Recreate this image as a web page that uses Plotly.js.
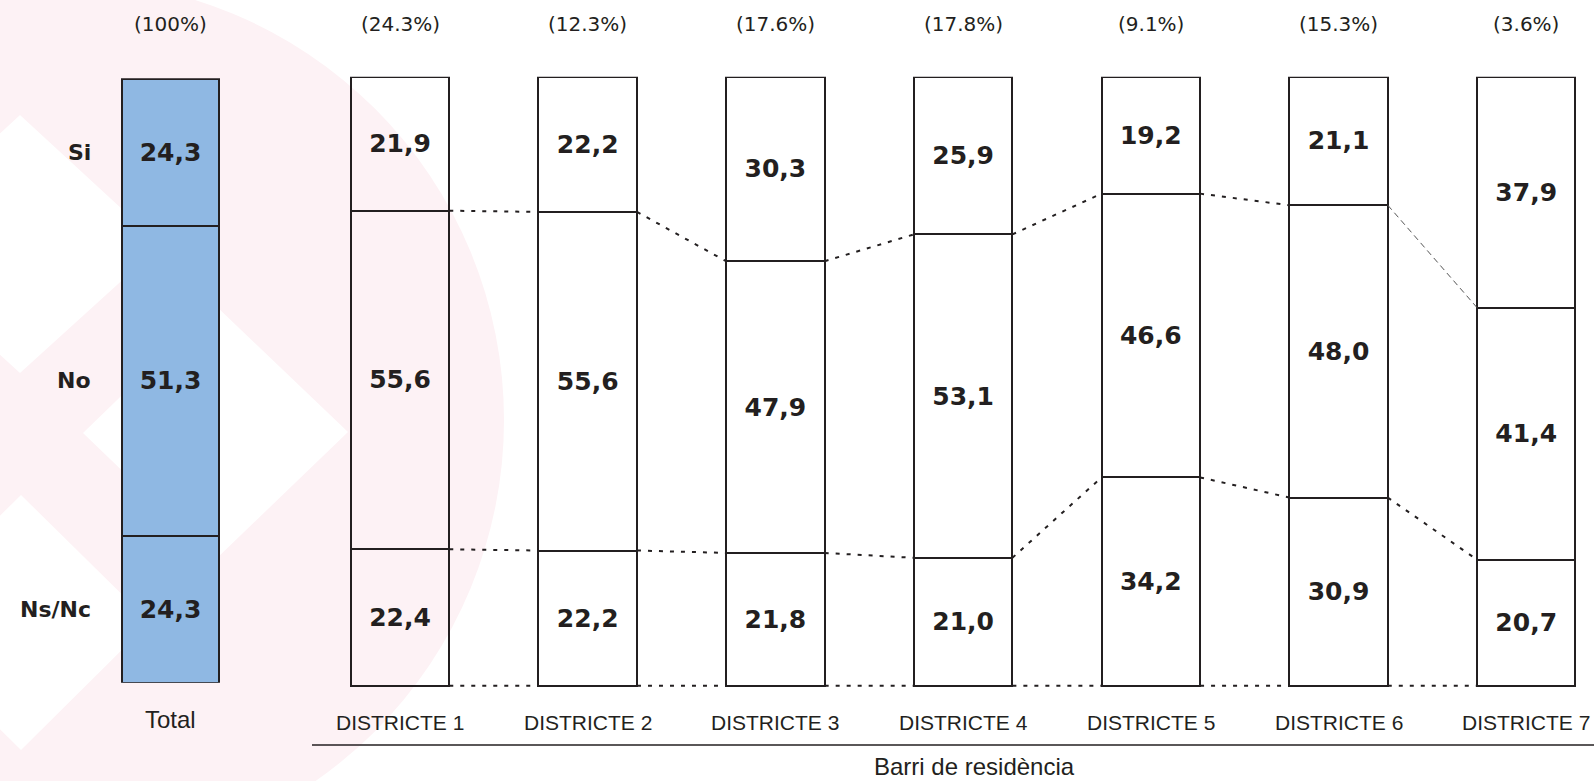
<!DOCTYPE html>
<html>
<head>
<meta charset="utf-8">
<script src="https://cdn.plot.ly/plotly-3.0.1.min.js"></script>
<style>
  html, body { margin: 0; padding: 0; background: #ffffff; }
  #chart { width: 1594px; height: 781px; }
</style>
</head>
<body>
<div id="chart"></div>
<script>
// ---------- data ----------
const totalLabel = ['Total'];
const districts = ['DISTRICTE 1', 'DISTRICTE 2', 'DISTRICTE 3', 'DISTRICTE 4', 'DISTRICTE 5', 'DISTRICTE 6', 'DISTRICTE 7'];
const answers = ['Si', 'No', 'Ns/Nc'];

const totalSi = [24.3];
const totalNo = [51.3];
const totalNs = [24.3];

const siValues = [21.9, 22.2, 30.3, 25.9, 19.2, 21.1, 37.9];
const noValues = [55.6, 55.6, 47.9, 53.1, 46.6, 48.0, 41.4];
const nsValues = [22.4, 22.2, 21.8, 21.0, 34.2, 30.9, 20.7];

const totalShare = [100];
const districtShares = [24.3, 12.3, 17.6, 17.8, 9.1, 15.3, 3.6];

const xAxisTitle = 'Barri de residència';

// ---------- helpers / styling ----------
const W = 1594, H = 781;
const px = v => v / W;
const py = v => 1 - v / H;
const INK = '#231f20';
const BLUE = '#8fb8e3';
const BAR_W = 0.525;
const fmt = v => v.toFixed(1).replace('.', ',');
const idx = districts.map((_, i) => i);

const valueFont = { family: 'DejaVu Sans, Verdana, sans-serif', size: 25, color: INK, weight: 'bold' };

function barTrace(x, y, xa, ya, fill, width) {
  return {
    type: 'bar', x: x, y: y, xaxis: xa, yaxis: ya,
    width: width,
    marker: { color: fill, line: { color: INK, width: 2 } },
    text: y.map(fmt), textposition: 'inside', insidetextanchor: 'middle',
    textangle: 0, constraintext: 'none', insidetextfont: valueFont,
    hoverinfo: 'skip', showlegend: false
  };
}

const traces = [];
// Total bar (bottom to top)
traces.push(barTrace([0], totalNs, 'x', 'y', BLUE, 1));
traces.push(barTrace([0], totalNo, 'x', 'y', BLUE, 1));
traces.push(barTrace([0], totalSi, 'x', 'y', BLUE, 1));
// District bars
const clear = 'rgba(0,0,0,0)';
traces.push(barTrace(idx, nsValues, 'x2', 'y2', clear, BAR_W));
traces.push(barTrace(idx, noValues, 'x2', 'y2', clear, BAR_W));
traces.push(barTrace(idx, siValues, 'x2', 'y2', clear, BAR_W));

// Connector lines between adjacent district bars
const levelBottom = districts.map(() => 0);
const levelNs = nsValues.slice();
const levelNsNo = nsValues.map((v, i) => v + noValues[i]);

function connector(level, pairs, line) {
  const xs = [], ys = [];
  pairs.forEach(i => {
    xs.push(i + BAR_W / 2, i + 1 - BAR_W / 2, null);
    ys.push(level[i], level[i + 1], null);
  });
  return {
    type: 'scatter', mode: 'lines', x: xs, y: ys, xaxis: 'x2', yaxis: 'y2',
    line: line, hoverinfo: 'skip', showlegend: false, connectgaps: false, cliponaxis: false
  };
}
const dotted = { color: INK, width: 2, dash: '4px,7px' };
const allPairs = [0, 1, 2, 3, 4, 5];
traces.push(connector(levelBottom, allPairs, dotted));
traces.push(connector(levelNs, allPairs, dotted));
traces.push(connector(levelNsNo, [0, 1, 2, 3, 4], dotted));
traces.push(connector(levelNsNo, [5], { color: '#555555', width: 1, dash: '6px,4px' }));

// ---------- annotations ----------
const annotations = [];
const pctFont = { family: 'DejaVu Sans, Verdana, sans-serif', size: 20, color: INK };
// share labels on top
annotations.push({ xref: 'x', yref: 'paper', x: 0, y: py(24), text: '(' + totalShare[0] + '%)',
  showarrow: false, xanchor: 'center', yanchor: 'middle', font: pctFont });
districtShares.forEach((s, i) => annotations.push({
  xref: 'x2', yref: 'paper', x: i, y: py(24), text: '(' + s.toFixed(1) + '%)',
  showarrow: false, xanchor: 'center', yanchor: 'middle', font: pctFont }));
// category labels below
annotations.push({ xref: 'x', yref: 'paper', x: 0, y: py(719), text: totalLabel[0],
  showarrow: false, xanchor: 'center', yanchor: 'middle',
  font: { family: 'Liberation Sans, Arial, sans-serif', size: 24, color: INK } });
districts.forEach((d, i) => annotations.push({
  xref: 'x2', yref: 'paper', x: i, y: py(722), text: d,
  showarrow: false, xanchor: 'center', yanchor: 'middle',
  font: { family: 'Liberation Sans, Arial, sans-serif', size: 21, color: INK } }));
// axis title
annotations.push({ xref: 'paper', yref: 'paper', x: px(974), y: py(766), text: xAxisTitle,
  showarrow: false, xanchor: 'center', yanchor: 'middle',
  font: { family: 'Liberation Sans, Arial, sans-serif', size: 24, color: INK } });
// answer labels left of the total bar
const answerMids = [
  totalNs[0] + totalNo[0] + totalSi[0] / 2,
  totalNs[0] + totalNo[0] / 2,
  totalNs[0] / 2
];
answers.forEach((a, i) => annotations.push({
  xref: 'paper', yref: 'y', x: px(93), y: answerMids[i], text: a,
  showarrow: false, xanchor: 'right', yanchor: 'middle',
  font: { family: 'DejaVu Sans, Verdana, sans-serif', size: 22, color: INK, weight: 'bold' } }));

// ---------- background watermark + rule ----------
function poly(points) {
  return 'M ' + points.map(p => px(p[0]) + ',' + py(p[1])).join(' L ') + ' Z';
}
const shapes = [
  { type: 'circle', xref: 'paper', yref: 'paper', layer: 'below',
    x0: px(64 - 440), x1: px(64 + 440), y0: py(420 + 440), y1: py(420 - 440),
    fillcolor: '#fdf2f5', line: { width: 0 } },
  { type: 'path', xref: 'paper', yref: 'paper', layer: 'below',
    path: poly([[20, 115], [161, 245], [20, 373], [-121, 245]]),
    fillcolor: '#ffffff', line: { width: 0 } },
  { type: 'path', xref: 'paper', yref: 'paper', layer: 'below',
    path: poly([[83, 433], [215, 305], [348, 432], [215, 560]]),
    fillcolor: '#ffffff', line: { width: 0 } },
  { type: 'path', xref: 'paper', yref: 'paper', layer: 'below',
    path: poly([[21, 495], [150, 622], [21, 750], [-108, 622]]),
    fillcolor: '#ffffff', line: { width: 0 } },
  { type: 'line', xref: 'paper', yref: 'paper', layer: 'above',
    x0: px(312), x1: 1, y0: py(745), y1: py(745),
    line: { color: INK, width: 1.6 } }
];

const hidden = { showgrid: false, zeroline: false, showline: false, showticklabels: false, ticks: '', fixedrange: true };

// district y axis: 0 at 685.7px, 100 at 76.7px; range padded below 0 so the base connectors are not clipped
const Y2_PAD = -0.5;
const y2PxPerUnit = (685.7 - 76.7) / 100;

const layout = {
  width: W, height: H,
  margin: { l: 0, r: 0, t: 0, b: 0, pad: 0 },
  paper_bgcolor: '#ffffff', plot_bgcolor: 'rgba(0,0,0,0)',
  barmode: 'stack', showlegend: false, hovermode: false,
  xaxis: Object.assign({}, hidden, { domain: [px(117.15), px(223.85)], range: [-0.55, 0.55] }),
  yaxis: Object.assign({}, hidden, { domain: [py(682.7), py(78.3)], range: [0, 100] }),
  xaxis2: Object.assign({}, hidden, { domain: [px(306.15), px(1591.9)], range: [-0.5, 6.35], anchor: 'y2' }),
  yaxis2: Object.assign({}, hidden, { domain: [py(685.7 - Y2_PAD * y2PxPerUnit), py(76.7)], range: [Y2_PAD, 100], anchor: 'x2' }),
  annotations: annotations,
  shapes: shapes
};

Plotly.newPlot('chart', traces, layout, { displayModeBar: false, staticPlot: true });
</script>
</body>
</html>
